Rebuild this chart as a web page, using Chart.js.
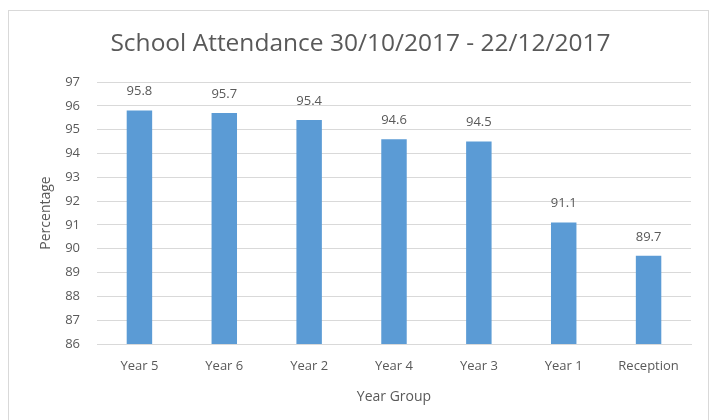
<!DOCTYPE html>
<html>
<head>
<meta charset="utf-8">
<script src="https://cdn.jsdelivr.net/npm/chart.js@4.4.0/dist/chart.umd.min.js"></script>
<style>
  html, body { margin: 0; padding: 0; background: #fff; }
  #wrap { width: 714px; height: 420px; position: relative; }
</style>
</head>
<body>
<div id="wrap"><canvas id="c" width="714" height="420"></canvas></div>
<script>
const categories = ["Year 5", "Year 6", "Year 2", "Year 4", "Year 3", "Year 1", "Reception"];
const attendance = [95.8, 95.7, 95.4, 94.6, 94.5, 91.1, 89.7];
const yMin = 86;
const yMax = 97;

const FONT = "'Open Sans', sans-serif";
const TEXT = '#595959';

const borderPlugin = {
  id: 'frame',
  beforeDraw(chart) {
    const ctx = chart.ctx;
    ctx.save();
    ctx.fillStyle = '#fff';
    ctx.fillRect(0, 0, chart.width, chart.height);
    ctx.strokeStyle = '#d9d9d9';
    ctx.lineWidth = 1;
    ctx.strokeRect(8.5, 10.5, 700, 430);
    ctx.restore();
  }
};

const labelPlugin = {
  id: 'valueLabels',
  afterDatasetsDraw(chart) {
    const ctx = chart.ctx;
    const meta = chart.getDatasetMeta(0);
    ctx.save();
    ctx.font = "13px " + FONT;
    ctx.fillStyle = TEXT;
    ctx.textAlign = 'center';
    ctx.textBaseline = 'middle';
    meta.data.forEach((bar, i) => {
      ctx.fillText(String(chart.data.datasets[0].data[i]), bar.x, bar.y - 19);
    });
    ctx.restore();
  }
};

new Chart(document.getElementById('c'), {
  type: 'bar',
  data: {
    labels: categories,
    datasets: [{
      data: attendance,
      backgroundColor: '#5b9bd5',
      borderWidth: 0,
      categoryPercentage: 1.0,
      barPercentage: 0.3
    }]
  },
  options: {
    responsive: false,
    animation: false,
    layout: { padding: { left: 30, right: 23, top: 29, bottom: 10 } },
    plugins: {
      legend: { display: false },
      tooltip: { enabled: false },
      title: {
        display: true,
        text: 'School Attendance 30/10/2017 - 22/12/2017',
        color: TEXT,
        font: { family: FONT, size: 24.5, weight: 'normal', lineHeight: 1.2 },
        padding: { top: 0, bottom: 23.6 }
      }
    },
    scales: {
      y: {
        min: yMin,
        max: yMax,
        afterFit(scale) { scale.width = 67; },
        ticks: { stepSize: 1, color: TEXT, font: { family: FONT, size: 13 }, padding: 17 },
        grid: { color: '#d9d9d9', drawTicks: false },
        border: { display: false },
        title: { display: true, text: 'Percentage', color: TEXT, font: { family: FONT, size: 14, lineHeight: 1.2 }, padding: { top: 8, bottom: 0 } }
      },
      x: {
        afterFit(scale) { scale.height = 66; },
        ticks: { color: TEXT, font: { family: FONT, size: 13 }, padding: 14 },
        grid: { display: false, drawTicks: false },
        border: { display: true, color: '#d9d9d9' },
        title: { display: true, text: 'Year Group', color: TEXT, font: { family: FONT, size: 14, lineHeight: 1.2 }, padding: { top: 0, bottom: 5 } }
      }
    }
  },
  plugins: [borderPlugin, labelPlugin]
});
</script>
</body>
</html>
